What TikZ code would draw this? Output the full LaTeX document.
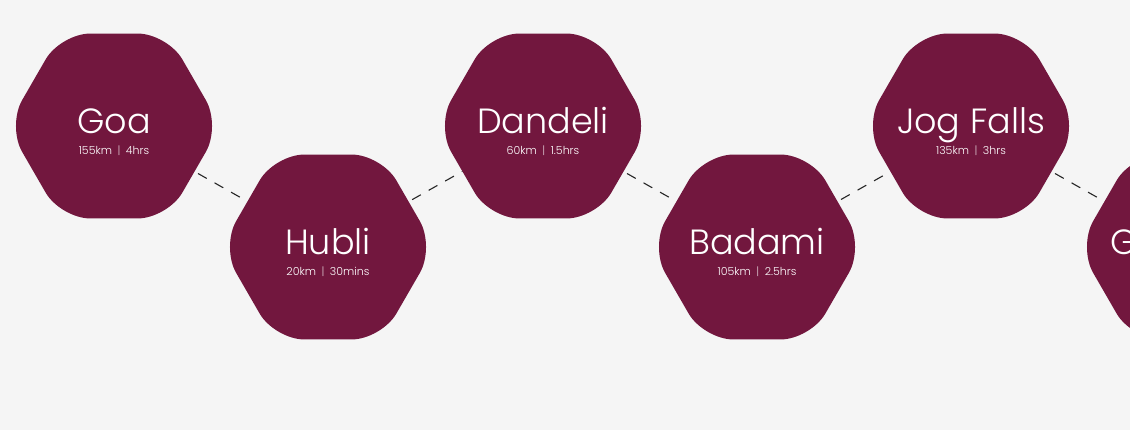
\documentclass[tikz,border=0pt]{standalone}
\usepackage{fontspec}
\setmainfont{Poppins Light}
\usetikzlibrary{shapes.geometric,positioning}
\definecolor{wine}{HTML}{72173E}
\definecolor{paper}{HTML}{F5F5F5}
\newcommand{\sepbar}{\enspace{\color{white!75!wine}|}\enspace}

\begin{document}
\begin{tikzpicture}[x=1pt, y=-1pt,
        stop/.style={regular polygon, regular polygon sides=6,
            minimum size=213.6pt, inner sep=0pt, outer sep=0pt, fill=wine, rounded corners=30pt},
        place/.style={text=white, font=\fontsize{35}{38}\selectfont, anchor=base, yshift=-8pt},
        trip/.style={text=white, font=\fontsize{11}{13}\selectfont, anchor=base, yshift=-29pt},
        road/.style={dash pattern=on 10pt off 9pt, dash phase=-4pt, line width=1.1pt, black!85}]
        % Background
        \useasboundingbox (0,0) rectangle (1130,430);
        \fill [paper] (0,0) rectangle (1130,430);
        \clip (0,0) rectangle (1130,430);

        % Stops
        \node [stop] (goa) at (114,126) {};
        \node [stop] (hubli) at (328,247) {};
        \node [stop] (dandeli) at (543,126) {};
        \node [stop] (badami) at (757,247) {};
        \node [stop] (jogfalls) at (971,126) {};
        \node [stop] (gokarna) at (1185,247) {};

        % Roads
        \draw [road] (goa) -- (hubli);
        \draw [road] (hubli) -- (dandeli);
        \draw [road] (dandeli) -- (badami);
        \draw [road] (badami) -- (jogfalls);
        \draw [road] (jogfalls) -- (gokarna);

        % Labels
        \node [place] (goaname) at (goa.center) {Goa};
        \node [trip] (goatrip) at (goa.center) {155km\sepbar 4hrs};
        \node [place] (hubliname) at (hubli.center) {Hubli};
        \node [trip] (hublitrip) at (hubli.center) {20km\sepbar 30mins};
        \node [place] (dandeliname) at (dandeli.center) {Dandeli};
        \node [trip] (dandelitrip) at (dandeli.center) {60km\sepbar 1.5hrs};
        \node [place] (badaminame) at (badami.center) {Badami};
        \node [trip] (badamitrip) at (badami.center) {105km\sepbar 2.5hrs};
        \node [place] (jogfallsname) at (jogfalls.center) {Jog Falls};
        \node [trip] (jogfallstrip) at (jogfalls.center) {135km\sepbar 3hrs};
        \node [place] (gokarnaname) at (gokarna.center) {Gokarna};
\end{tikzpicture}
\end{document}
